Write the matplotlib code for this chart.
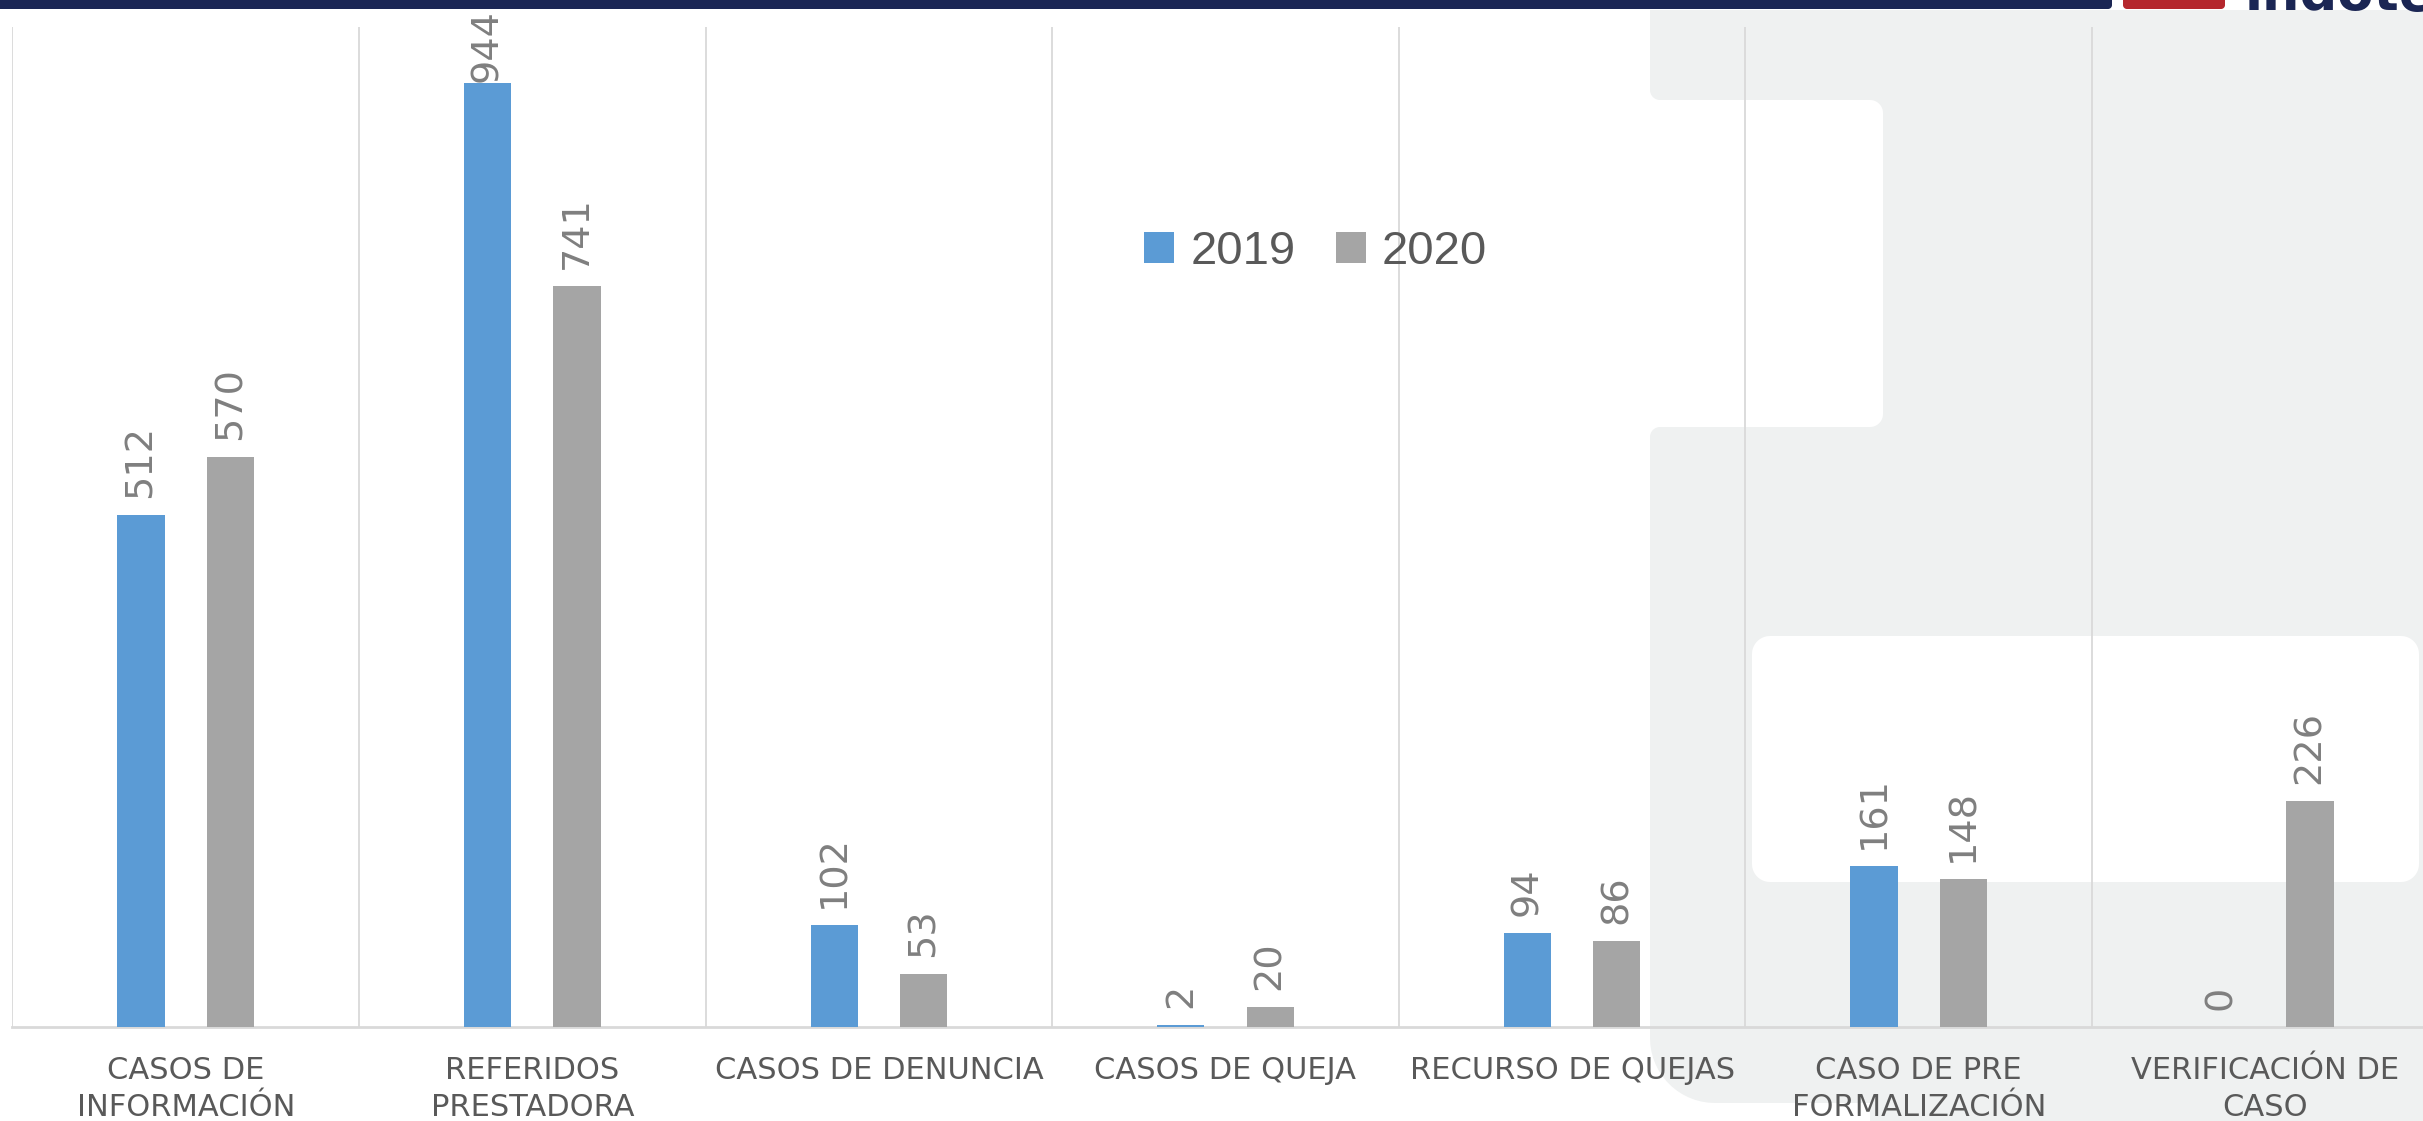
import numpy as np
import matplotlib
matplotlib.use("Agg")
import matplotlib.pyplot as plt
from matplotlib.patches import Polygon
from matplotlib.transforms import Affine2D

# datos
categorias = ["CASOS DE\nINFORMACIÓN", "REFERIDOS\nPRESTADORA", "CASOS DE DENUNCIA",
              "CASOS DE QUEJA", "RECURSO DE QUEJAS", "CASO DE PRE\nFORMALIZACIÓN",
              "VERIFICACIÓN DE\nCASO"]
casos_2019 = [512, 944, 102, 2, 94, 161, 0]
casos_2020 = [570, 741, 53, 20, 86, 148, 226]
series = ["2019", "2020"]

W, H = 2423, 1121
azul = "#5b9bd5"
gris = "#a5a5a5"
fondo = "#eff1f1"
navy = "#1b2654"

fig = plt.figure(figsize=(W / 100, H / 100), dpi=100)
# pixeles con origen arriba a la izquierda
px = Affine2D().scale(1, -1).translate(0, H).scale(0.01) + fig.dpi_scale_trans


def caja(x0, y0, x1, y1, radios, color, z=-10):
    tl, tr, br, bl = radios
    def arco(cx, cy, r, a0, a1):
        t = np.linspace(a0, a1, 16)
        return np.column_stack([cx + r * np.cos(t), cy + r * np.sin(t)])
    pts = np.vstack([
        arco(x0 + tl, y0 + tl, tl, np.pi, 1.5 * np.pi),
        arco(x1 - tr, y0 + tr, tr, 1.5 * np.pi, 2 * np.pi),
        arco(x1 - br, y1 - br, br, 0, 0.5 * np.pi),
        arco(x0 + bl, y1 - bl, bl, 0.5 * np.pi, np.pi),
    ])
    fig.patches.append(Polygon(pts, closed=True, facecolor=color, edgecolor="none",
                               transform=px, zorder=z))


# fondo decorativo
caja(1870, 10, W + 5, H + 5, (0, 0, 0, 0), fondo)
caja(1600, 100, 1883, 427, (0, 13, 13, 0), "white")
caja(1650, 10, 1900, 100, (0, 0, 0, 10), fondo)
caja(1650, 427, 1900, 1103, (10, 0, 0, 65), fondo)
caja(1752, 636, 2419, 882, (18, 18, 18, 18), "white")

# barra superior y logo (cortado por el borde, como en el original)
caja(-5, -5, 2112, 9, (0, 0, 4, 0), navy, z=5)
caja(2123, -5, 2225, 9, (0, 0, 4, 4), "#b5272d", z=5)
fig.text(2245, 10, "indotel", transform=px, fontsize=38, fontweight="bold",
         color=navy, va="baseline", ha="left", family="DejaVu Sans")

ax = fig.add_axes([12.4 / W, 1 - 1027 / H, 7 * 346.6 / W, 1000 / H])
ax.set_facecolor("none")

x = np.arange(len(categorias))
b1 = ax.bar(x - 0.129, casos_2019, width=0.136, color=azul, label=series[0], zorder=3)
b2 = ax.bar(x + 0.129, casos_2020, width=0.136, color=gris, label=series[1], zorder=3)

pad = 12
etiquetas = []
for barras in (b1, b2):
    etiquetas += ax.bar_label(barras, padding=pad, rotation=90, fontsize=27.5,
                              color="#7f7f7f", family="DejaVu Sans")

ax.set_xlim(-0.5, 6.5)
ax.set_ylim(0, 1000)
ax.set_yticks([])
ax.set_xticks(x, categorias, fontsize=22, color="#595959", linespacing=1.35)
ax.set_xticks(np.arange(-0.5, 7, 1), minor=True)
ax.tick_params(axis="x", which="both", length=0, pad=21)
ax.grid(which="minor", axis="x", color="#d9d9d9", linewidth=1.3, zorder=1)
for lado in ("left", "right", "top"):
    ax.spines[lado].set_visible(False)
ax.spines["bottom"].set_color("#d9d9d9")
ax.spines["bottom"].set_linewidth(2)

leg = ax.legend(loc="center", bbox_to_anchor=(1315.5 / W, 1 - 252 / H),
                bbox_transform=fig.transFigure, ncol=2, frameon=False,
                prop={"family": "Liberation Sans", "size": 34},
                handlelength=0.64, handleheight=0.64, handletextpad=0.34,
                columnspacing=0.85, borderpad=0, borderaxespad=0)
for t in leg.get_texts():
    t.set_color("#595959")

# como en Excel: la etiqueta que no cabe se baja hasta el borde del area
fig.canvas.draw()
limite = H - 9
for t in etiquetas:
    caja_t = t.get_window_extent()
    if caja_t.y1 > limite:
        exceso = caja_t.y1 - limite
        t.xyann = (0, pad - exceso * 72 / fig.dpi)

fig.savefig("out.png", dpi=100)
